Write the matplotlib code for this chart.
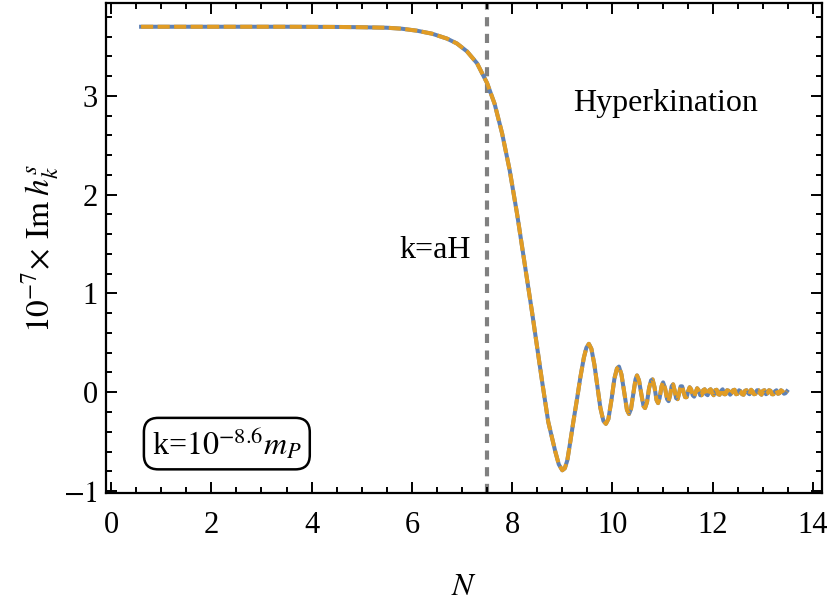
import matplotlib
matplotlib.use('Agg')
import matplotlib.pyplot as plt
import numpy as np
from matplotlib.ticker import MultipleLocator

plt.rcParams['font.family'] = ['Liberation Serif', 'DejaVu Serif']
plt.rcParams['mathtext.fontset'] = 'stix'

# e-folds N and 10^7 Im h_k^s
n_main = [0.6, 1.5, 2.5, 3.5, 4.5, 5.0, 5.5, 5.8, 6.1, 6.4, 6.7, 6.9, 7.1, 7.3, 7.5,
          7.65, 7.8, 7.95, 8.1, 8.25, 8.4, 8.5, 8.6, 8.72, 8.86, 8.93, 9.0, 9.05,
          9.1, 9.16, 9.22, 9.29, 9.36, 9.43, 9.48, 9.53, 9.58, 9.64, 9.70, 9.76,
          9.82, 9.87, 9.92, 9.98, 10.04, 10.09, 10.13, 10.18, 10.24, 10.29, 10.33,
          10.37, 10.42, 10.46, 10.49, 10.53, 10.58, 10.62, 10.65, 10.69, 10.73,
          10.77, 10.80, 10.84, 10.88, 10.91, 10.94, 10.98, 11.01, 11.05, 11.09,
          11.12, 11.15, 11.18, 11.21, 11.24, 11.27, 11.30, 11.33, 11.36, 11.39,
          11.42, 11.45, 11.48, 11.51, 11.54, 11.57, 11.60, 11.63, 11.66, 11.69,
          11.72, 11.75, 11.78, 11.81]
h_main = [3.70, 3.70, 3.70, 3.70, 3.698, 3.695, 3.69, 3.68, 3.66, 3.63, 3.58, 3.53,
          3.45, 3.33, 3.13, 2.92, 2.62, 2.25, 1.80, 1.30, 0.80, 0.45, 0.10, -0.30,
          -0.60, -0.73, -0.79, -0.77, -0.69, -0.50, -0.30, -0.08, 0.15, 0.35, 0.45,
          0.49, 0.44, 0.28, 0.06, -0.16, -0.29, -0.32, -0.27, -0.08, 0.14, 0.24,
          0.26, 0.18, -0.02, -0.18, -0.22, -0.17, 0.0, 0.13, 0.17, 0.12, -0.03,
          -0.14, -0.16, -0.10, 0.04, 0.12, 0.13, 0.05, -0.08, -0.11, -0.06, 0.06,
          0.10, 0.04, -0.07, -0.09, -0.03, 0.06, 0.08, 0.02, -0.06, -0.07, -0.01,
          0.06, 0.06, 0.0, -0.05, -0.05, 0.01, 0.05, 0.03, -0.03, -0.045, 0.0,
          0.04, 0.02, -0.03, -0.03, 0.02]

# noisy tail, 11.84 .. 13.48
h_tail = [0.03, -0.02, -0.03, 0.02, 0.03, -0.01, -0.03, 0.02, 0.025, -0.02,
          -0.025, 0.015, 0.03, -0.02, -0.02, 0.02, 0.015, -0.025, -0.01, 0.02,
          0.025, -0.02, -0.015, 0.02, 0.01, -0.02, -0.025, 0.015, 0.02, -0.01,
          -0.02, 0.025, 0.01, -0.02, -0.015, 0.02, 0.02, -0.01, -0.025, 0.015,
          0.02, -0.02, -0.01, 0.02, 0.015, -0.02, -0.02, 0.01, 0.02, -0.015,
          -0.01, 0.02, 0.01, -0.015, -0.01, 0.01]
n_tail = np.linspace(11.84, 13.48, len(h_tail))

n_all = np.concatenate([n_main, n_tail])
h_all = np.concatenate([h_main, h_tail])

n_cross = 7.5

fig = plt.figure(figsize=(8.3, 6.07), dpi=100)
ax = fig.add_axes([0.1277, 0.1878, 0.8627, 0.8072])

ax.axvline(n_cross, color='#808080', lw=3.0, dashes=(2.2, 1.8), zorder=1)
ax.plot(n_all, h_all, color='#5E81B5', lw=2.9, zorder=2, solid_joinstyle='round')
ax.plot(n_all, h_all, color='#E19C24', lw=2.9, dashes=(3.0, 1.1), zorder=3)

ax.set_xlim(-0.1, 14.18)
ax.set_ylim(-1.02, 3.94)

ax.xaxis.set_major_locator(MultipleLocator(2))
ax.xaxis.set_minor_locator(MultipleLocator(0.5))
ax.yaxis.set_major_locator(MultipleLocator(1))
ax.yaxis.set_minor_locator(MultipleLocator(0.2))
ax.set_yticks([-1, 0, 1, 2, 3], [r'$-1$', '0', '1', '2', '3'])
ax.tick_params(which='both', direction='in', top=True, right=True, width=1.4,
               labelsize=22)
ax.tick_params(axis='x', pad=13)
ax.tick_params(axis='y', pad=6)
ax.tick_params(which='major', length=8)
ax.tick_params(which='minor', length=4.5)
for s in ax.spines.values():
    s.set_linewidth(1.6)

ax.set_xlabel(r'$N$', fontsize=23, labelpad=24)
ax.set_ylabel(r'$10^{-7}\!\times\,\mathrm{Im}\;h_k^s$', fontsize=24, labelpad=1)

ax.text(11.05, 2.92, 'Hyperkination', fontsize=23, ha='center', va='center')
ax.text(6.47, 1.43, 'k=aH', fontsize=23, ha='center', va='center')
ax.text(2.31, -0.52, r'k=$10^{-8.6}m_P$', fontsize=23, ha='center', va='center',
        bbox=dict(boxstyle='round,pad=0.25,rounding_size=0.45', fc='white',
                  ec='black', lw=1.8))

fig.savefig('out.png', dpi=100)
